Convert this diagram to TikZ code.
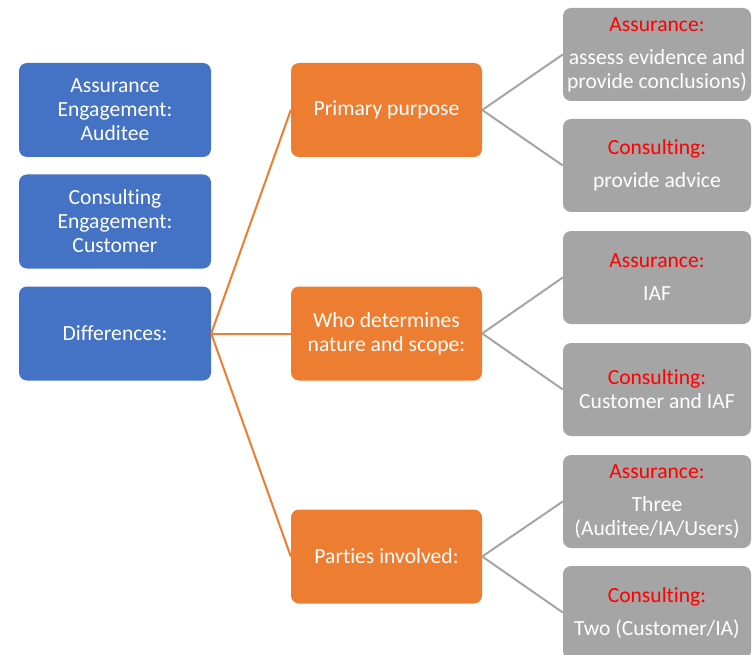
\documentclass[tikz,border=0pt]{standalone}
\usepackage{fontspec}
\setmainfont[Ligatures=NoCommon]{Carlito}
\definecolor{engblue}{HTML}{4472C4}
\definecolor{engorange}{HTML}{ED7D31}
\definecolor{enggray}{HTML}{A5A5A5}
\definecolor{labelred}{HTML}{FF0000}
\newcommand{\tag}[1]{\textcolor{labelred}{#1}}
\begin{document}
\begin{tikzpicture}[x=1pt,y=-1pt,
    box/.style={rounded corners=8pt, align=center, text=white, inner sep=0pt,
      font=\fontsize{21.6}{24}\selectfont},
    bluebox/.style={box, fill=engblue, minimum width=192pt, minimum height=94pt},
    orangebox/.style={box, fill=engorange, minimum width=191pt, minimum height=94pt},
    graybox/.style={box, fill=enggray, minimum width=188pt, minimum height=93pt},
    orangeline/.style={engorange, line width=2pt},
    grayline/.style={enggray, line width=2pt}]
    \useasboundingbox (0,0) rectangle (752,655);
    \clip (0,0) rectangle (752,655);

    % left column
    \node[bluebox] (aud) at (115,110) {Assurance\\Engagement:\\Auditee};
    \node[bluebox] (cust) at (115,221.5) {Consulting\\Engagement:\\Customer};
    \node[bluebox] (diff) at (115,333.5) {Differences:};

    % middle column
    \node[orangebox] (purpose) at (386.5,110) {Primary purpose};
    \node[orangebox] (scope) at (386.5,333.5) {Who determines\\nature and scope:};
    \node[orangebox] (parties) at (386.5,556.5) {Parties involved:};

    % right column
    \node[graybox] (pa) at (657,54.5) {\tag{Assurance:}\\[9pt]assess evidence and\\provide conclusions)};
    \node[graybox] (pc) at (657,165.5) {\tag{Consulting:}\\[9pt]provide advice};
    \node[graybox] (sa) at (657,277.5) {\tag{Assurance:}\\[9pt]IAF};
    \node[graybox] (sc) at (657,389.5) {\tag{Consulting:}\\Customer and IAF};
    \node[graybox] (ta) at (657,501.5) {\tag{Assurance:}\\[9pt]Three\\(Auditee/IA/Users)};
    \node[graybox] (tc) at (657,612.5) {\tag{Consulting:}\\[9pt]Two (Customer/IA)};

    \foreach \m in {purpose,scope,parties}
      \draw[orangeline] (diff.east) -- (\m.west);
    \draw[grayline] (purpose.east) -- (pa.west);
    \draw[grayline] (purpose.east) -- (pc.west);
    \draw[grayline] (scope.east) -- (sa.west);
    \draw[grayline] (scope.east) -- (sc.west);
    \draw[grayline] (parties.east) -- (ta.west);
    \draw[grayline] (parties.east) -- (tc.west);
\end{tikzpicture}
\end{document}
